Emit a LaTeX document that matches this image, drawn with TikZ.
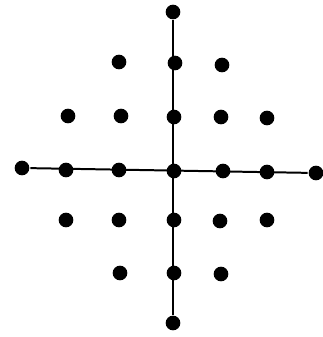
\documentclass[tikz,border=0pt]{standalone}
\usetikzlibrary{positioning}
\tikzset{
  every picture/.style={line width=1.7pt},
  dot/.style={circle, fill=black, inner sep=0pt, minimum size=0.44cm},
  axis/.style={draw=black, line width=1.7pt},
}

\begin{document}
\begin{tikzpicture}[x=0.03cm, y=-0.03cm]
  \useasboundingbox (0,0) rectangle (322,337);
  % ends of the two axes
  \node[dot] (t) at (173,12) {};
  \node[dot] (b) at (173,323) {};
  \node[dot] (l) at (22,168) {};
  \node[dot] (r) at (316,173) {};
  \draw[axis] (t) -- (b);
  \draw[axis] (l) -- (r);
  % centre row
  \foreach \x/\y [count=\i] in {66/170, 119/170, 174/171, 223/171, 267/172}
    \node[dot] (m\i) at (\x,\y) {};
  % rows above and below
  \foreach \x/\y [count=\i] in {119/62, 175/63, 222/65}
    \node[dot] (a\i) at (\x,\y) {};
  \foreach \x/\y [count=\i] in {68/116, 121/116, 174/117, 221/117, 267/118}
    \node[dot] (c\i) at (\x,\y) {};
  \foreach \x/\y [count=\i] in {66/220, 119/220, 174/220, 220/221, 267/220}
    \node[dot] (d\i) at (\x,\y) {};
  \foreach \x/\y [count=\i] in {120/273, 174/273, 221/274}
    \node[dot] (e\i) at (\x,\y) {};
\end{tikzpicture}
\end{document}
